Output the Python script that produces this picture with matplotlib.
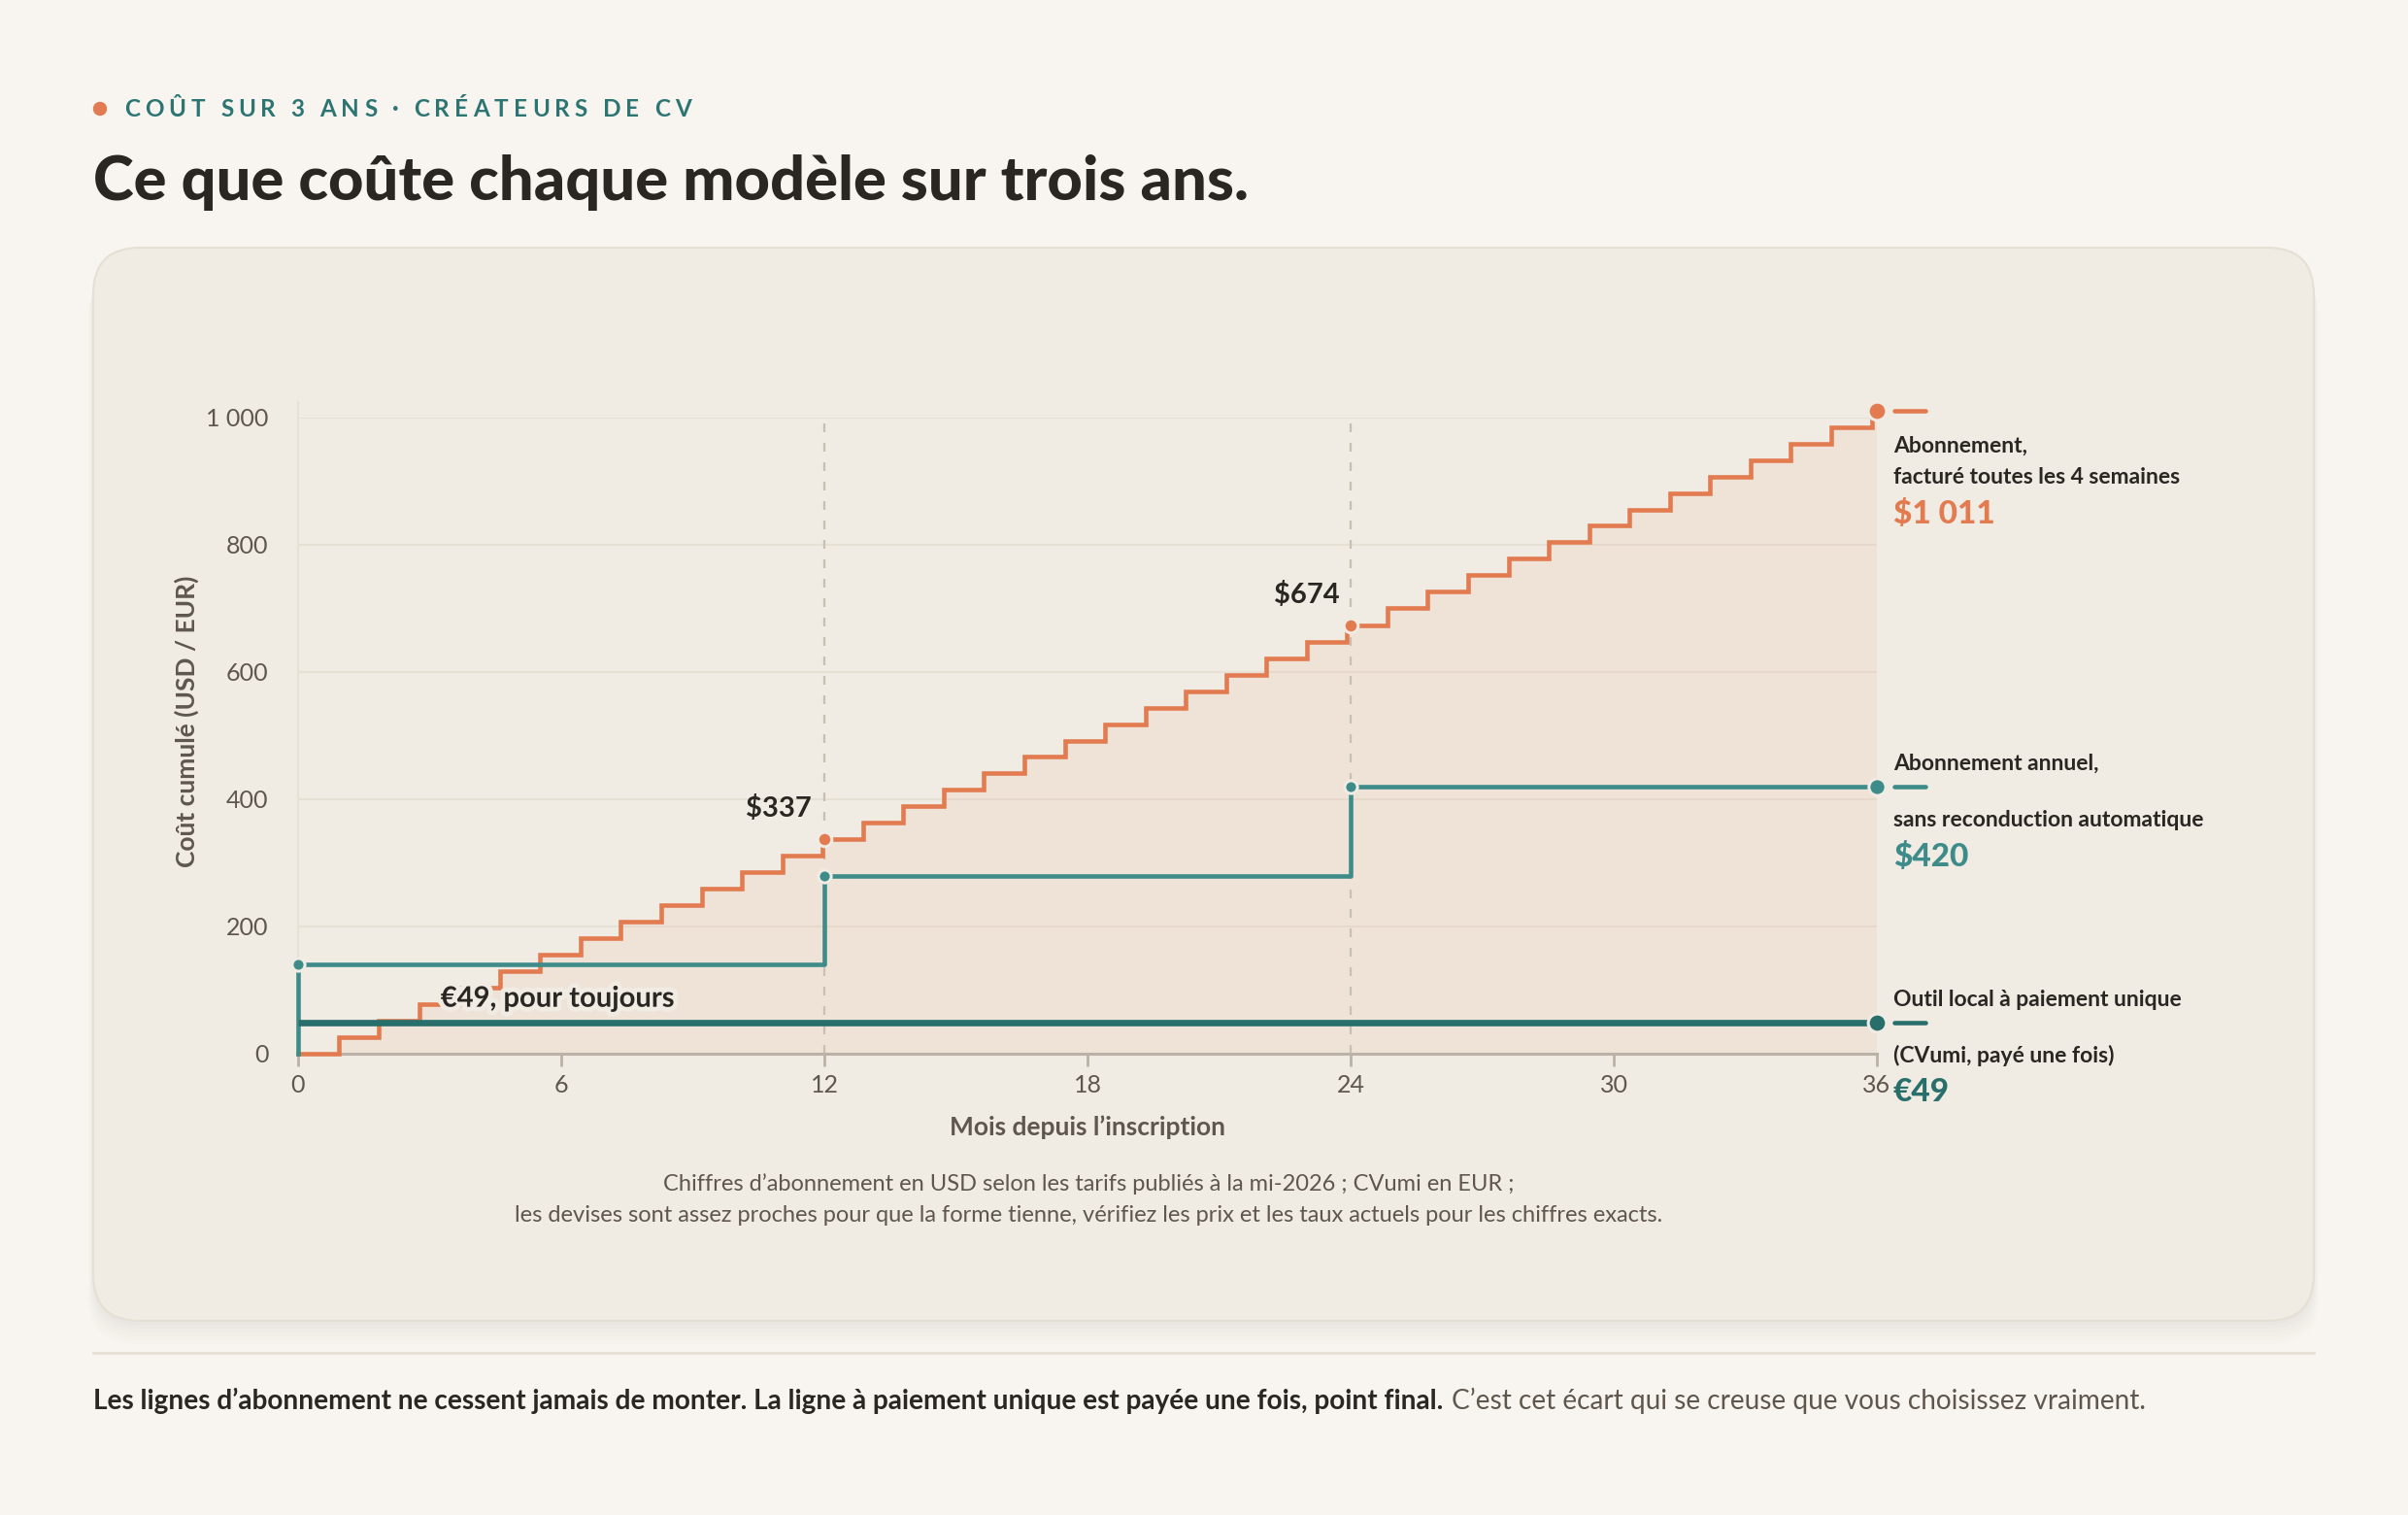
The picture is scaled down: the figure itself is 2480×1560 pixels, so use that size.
import matplotlib
matplotlib.use("Agg")
import matplotlib.pyplot as plt
from matplotlib.patches import FancyBboxPatch
from matplotlib.transforms import IdentityTransform
from matplotlib import patheffects as pe

# ---- data -------------------------------------------------------------
# abonnement 4 semaines: mois de chaque prélèvement et cumul
sub4w_months = [0.92, 1.84, 2.76, 3.68, 4.60, 5.52, 6.44, 7.36, 8.28, 9.20,
                10.12, 11.04, 11.96, 12.88, 13.80, 14.72, 15.64, 16.56, 17.48,
                18.40, 19.32, 20.24, 21.16, 22.08, 23.00, 23.92, 24.84, 25.76,
                26.68, 27.60, 28.52, 29.44, 30.36, 31.28, 32.20, 33.12, 34.04,
                34.96, 35.88]
sub4w_cum = [26, 52, 78, 104, 130, 156, 181, 207, 233, 259, 285, 311, 337,
             363, 389, 415, 441, 467, 492, 518, 544, 570, 596, 622, 648, 674,
             700, 726, 752, 778, 804, 830, 855, 881, 907, 933, 959, 985, 1011]

annual_months = [0, 12, 24, 36]
annual_cum = [140, 280, 420, 420]

onetime_months = [0, 36]
onetime_cum = [49, 49]

x_ticks = [0, 6, 12, 18, 24, 30, 36]
y_ticks = [0, 200, 400, 600, 800, 1000]
y_tick_labels = ["0", "200", "400", "600", "800", "1 000"]

# ---- style ------------------------------------------------------------
W, H = 2480, 1560
PAGE = "#f8f5f0"
CARD = "#f0ebe3"
ORANGE = "#e27b50"
TEAL = "#3d8c89"
DARK_TEAL = "#286f6c"
INK = "#2a2622"
MUTED = "#5f564d"
GRID = "#e7e0d5"
AXIS = "#bbb2a6"

plt.rcParams["font.family"] = ["Lato", "DejaVu Sans"]


def fx(x):
    return x / W


def fy(y):
    return 1 - y / H


fig = plt.figure(figsize=(W / 100, H / 100), dpi=100, facecolor=PAGE)
renderer = fig.canvas.get_renderer()

# eyebrow with letter spacing
fig.patches.append(plt.Circle((103, H - 112), 6.5, color=ORANGE,
                              transform=IdentityTransform(), figure=fig))
x = 128
for ch in "COÛT SUR 3 ANS · CRÉATEURS DE CV":
    if ch == " ":
        x += 10.5
        continue
    t = fig.text(fx(x), fy(112), ch, fontsize=17.5, fontweight="bold",
                 color="#2d7572", va="center", ha="left")
    x += t.get_window_extent(renderer).width + 5.1

fig.text(fx(96), fy(188), "Ce que coûte chaque modèle sur trois ans.",
         fontsize=45.5, fontweight="black", color=INK, va="center", ha="left")

# card with soft shadow
for i, a in enumerate([0.018, 0.016, 0.014, 0.012, 0.010, 0.008]):
    off = 4 + i * 4
    fig.patches.append(FancyBboxPatch(
        (96 - i, H - 1360 - off), 2287 + 2 * i, 1105,
        boxstyle="round,pad=0,rounding_size=48", transform=IdentityTransform(),
        facecolor="#6b5a45", edgecolor="none", alpha=a, figure=fig,
        zorder=-10))
fig.patches.append(FancyBboxPatch(
    (96, H - 1360), 2287, 1105, boxstyle="round,pad=0,rounding_size=48",
    transform=IdentityTransform(), facecolor=CARD, edgecolor="#e6dfd4",
    linewidth=1.5, figure=fig, zorder=-9))

# ---- chart ------------------------------------------------------------
ax = fig.add_axes([fx(307), fy(1085), (1933 - 307) / W, (1085 - 430) / H])
ax.set_zorder(2)
ax.set_facecolor("none")
ax.set_xlim(0, 36)
ax.set_ylim(0, 1000)

sx = [0] + sub4w_months + [36]
sy = [0] + sub4w_cum + [sub4w_cum[-1]]
ax.fill_between(sx, sy, step="post", color=ORANGE, alpha=0.07, linewidth=0,
                zorder=1)

for v in y_ticks[1:]:
    ax.axhline(v, color=GRID, linewidth=1.5, zorder=0)
for v in (12, 24):
    ax.plot([v, v], [0, 1000], color="#c8bfb3", linewidth=1.6,
            linestyle=(0, (4, 5)), zorder=1)

ax.step(sx, sy, where="post", color=ORANGE, linewidth=3.3, zorder=3,
        solid_joinstyle="miter", clip_on=False)
ax.step([0] + annual_months, [0] + annual_cum, where="post", color=TEAL,
        linewidth=3.3, zorder=4, clip_on=False)
ax.plot(onetime_months, onetime_cum, color=DARK_TEAL, linewidth=4.8,
        zorder=5, solid_capstyle="butt", clip_on=False)

# points
dot_kw = dict(markeredgecolor=CARD, markeredgewidth=2.2, clip_on=False,
              linestyle="none")
ax.plot([12, 24], [sub4w_cum[12], sub4w_cum[25]], "o", color=ORANGE,
        markersize=10.5, zorder=6, **dot_kw)
ax.plot(annual_months[:3], annual_cum[:3], "o", color=TEAL, markersize=9.5,
        zorder=6, **dot_kw)
ax.plot([36], [sub4w_cum[-1]], "o", color=ORANGE, markersize=13.5, zorder=6,
        **dot_kw)
ax.plot([36], [annual_cum[-1]], "o", color=TEAL, markersize=12.5, zorder=6,
        **dot_kw)
ax.plot([36], [onetime_cum[-1]], "o", color=DARK_TEAL, markersize=13.5,
        zorder=6, **dot_kw)

# short dashes after end points
for yv, c in ((sub4w_cum[-1], ORANGE), (annual_cum[-1], TEAL),
              (onetime_cum[-1], DARK_TEAL)):
    ax.plot([36.4, 37.1], [yv, yv], color=c, linewidth=3.3,
            solid_capstyle="round", clip_on=False, zorder=6)

# axes
for s in ("top", "right"):
    ax.spines[s].set_visible(False)
ax.spines["left"].set_color(GRID)
ax.spines["left"].set_linewidth(1.5)
ax.spines["left"].set_bounds(0, 1025)
ax.spines["bottom"].set_color(AXIS)
ax.spines["bottom"].set_linewidth(2.2)
ax.set_xticks(x_ticks)
ax.set_yticks(y_ticks)
ax.set_yticklabels(y_tick_labels)
ax.tick_params(axis="x", length=9, width=2, color=AXIS, labelsize=18,
               labelcolor=MUTED, pad=6)
ax.tick_params(axis="y", length=0, labelsize=18, labelcolor=MUTED, pad=22)
ax.set_xlabel("Mois depuis l’inscription", fontsize=19, fontweight="bold",
              color=MUTED, labelpad=14)
ax.set_ylabel("Coût cumulé (USD / EUR)", fontsize=19, fontweight="bold",
              color=MUTED)
ax.yaxis.set_label_coords(-0.063, 0.522)

# annotations
halo = [pe.withStroke(linewidth=7, foreground=CARD)]
ax.text(11.7, 385, "$337", fontsize=21, fontweight="bold", color=INK,
        ha="right", va="center", zorder=7)
ax.text(23.75, 722, "$674", fontsize=21, fontweight="bold", color=INK,
        ha="right", va="center", zorder=7)
ax.text(3.25, 86, "€49, pour toujours", fontsize=21, fontweight="bold",
        color=INK, ha="left", va="center", zorder=7, path_effects=halo)

# end labels
lab = dict(fontsize=16.5, fontweight="bold", color=INK, ha="left",
           va="center")
val = dict(fontsize=24, fontweight="black", ha="left", va="center")
fig.text(fx(1950), fy(459), "Abonnement,", **lab)
fig.text(fx(1950), fy(491), "facturé toutes les 4 semaines", **lab)
fig.text(fx(1950), fy(529), "$1 011", color=ORANGE, **val)
fig.text(fx(1950), fy(786), "Abonnement annuel,", **lab)
fig.text(fx(1950), fy(845), "sans reconduction automatique", **lab)
fig.text(fx(1950), fy(882), "$420", color=TEAL, **val)
fig.text(fx(1950), fy(1029), "Outil local à paiement unique", **lab)
fig.text(fx(1950), fy(1087), "(CVumi, payé une fois)", **lab)
fig.text(fx(1950), fy(1124), "€49", color=DARK_TEAL, **val)

# footnote
fig.text(fx(1121), fy(1219),
         "Chiffres d’abonnement en USD selon les tarifs publiés à la mi-2026 ; "
         "CVumi en EUR ;", fontsize=17, color=MUTED, ha="center", va="center")
fig.text(fx(1121), fy(1251),
         "les devises sont assez proches pour que la forme tienne, vérifiez les "
         "prix et les taux actuels pour les chiffres exacts.",
         fontsize=17, color=MUTED, ha="center", va="center")

# bottom caption
fig.add_artist(plt.Line2D([fx(96), fx(2383)], [fy(1393), fy(1393)],
                          color="#e6dfd4", linewidth=2))
t = fig.text(fx(96), fy(1442),
             "Les lignes d’abonnement ne cessent jamais de monter. La ligne à "
             "paiement unique est payée une fois, point final.",
             fontsize=20.2, fontweight="bold", color=INK, ha="left",
             va="center")
bx = t.get_window_extent(renderer).x1
fig.text(fx(bx + 9), fy(1442),
         "C’est cet écart qui se creuse que vous choisissez vraiment.",
         fontsize=20.2, color=MUTED, ha="left", va="center")

fig.savefig("out.png", dpi=100, facecolor=PAGE)
